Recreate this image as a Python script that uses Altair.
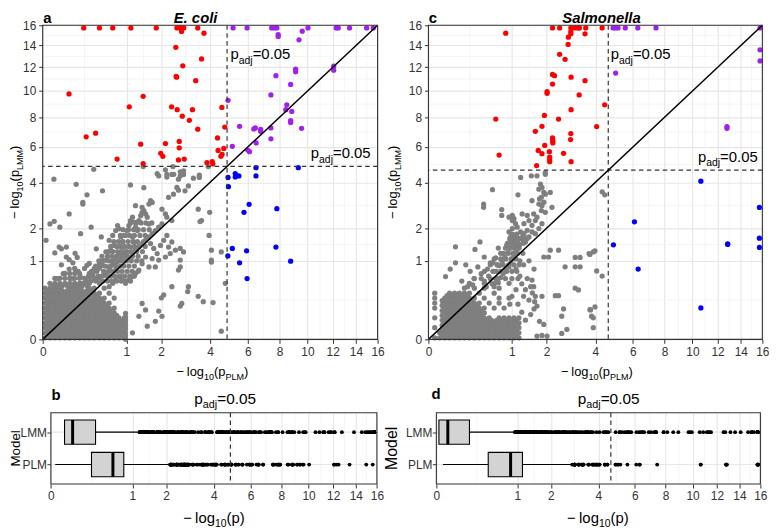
import altair as alt
import pandas as pd

FONT = "Liberation Sans"
MAJOR = [0, 1, 2, 4, 6, 8, 10, 12, 14, 16]
MINOR = [0.25, 1.457, 2.914, 4.949, 6.964, 8.972, 10.977, 12.981, 14.983]
GRID_MAJOR = "#E6E6E6"
GRID_MINOR = "#EEEEEE"

# ================= Panel a : E. coli  (x = -log10 p PLM, y = -log10 p LMM) =================
THR_A = 4.85
RED_A = [(0.24,15.73),(0.46,15.73),(0.70,15.73),(1.11,15.73),(1.84,15.73),(2.57,15.73),(2.70,15.73),(2.84,15.73),
         (2.75,15.37),(3.43,15.73),(3.71,15.2),(2.53,13.83),(3.60,12.75),(2.80,12.13),(2.54,11.21),(2.56,11.15),
         (3.34,10.85),(0.099,9.77),(1.44,9.58),(1.07,8.77),(2.37,8.77),(2.58,8.55),(3.20,8.55),(4.58,8.72),(2.78,8.08),
         (3.07,7.78),(4.73,7.31),(3.43,7.16),(0.27,6.65),(0.40,6.89),(4.36,6.58),(2.66,6.35),(1.37,6.18),(2.15,6.22),
         (2.66,5.95),(1.99,5.61),(2.06,5.43),(4.39,5.79),(4.68,5.91),(4.59,5.55),(4.53,5.43),(0.79,5.27),(2.63,5.22),
         (2.86,5.27),(1.44,5.01),(3.85,5.06),(4.10,5.12),(4.13,5.0)]
PURPLE_A = [(5.17,15.73),(5.96,15.73),(7.48,15.73),(7.65,15.73),(7.82,15.73),(10.04,15.73),(12.29,15.73),(12.46,15.73),
            (13.43,15.73),(14.97,15.73),(15.59,15.73),(7.91,15.07),(7.91,14.88),(9.61,15.4),(9.37,14.55),(12.08,12.1),
            (12.08,11.75),(9.13,11.84),(9.13,11.61),(7.76,11.27),(8.77,10.54),(7.43,9.69),(4.90,9.27),(8.50,8.92),
            (8.85,8.42),(8.43,8.55),(8.77,7.76),(8.77,7.62),(5.53,7.36),(9.56,7.22),(6.36,7.18),(6.45,7.25),(6.78,7.15),
            (6.78,7.0),(7.43,7.25),(6.50,6.26),(7.43,6.52),(5.13,6.04),(6.0,5.81),(6.1,5.71)]
BLUE_A = [(4.90,4.25),(5.29,4.46),(5.29,4.28),(5.49,4.33),(6.49,4.33),(6.49,4.78),(9.32,4.78),(4.92,3.78),(6.08,2.96),
          (5.78,2.62),(7.82,2.77),(5.13,1.34),(5.93,1.27),(7.76,1.38),(4.89,1.13),(5.53,0.95),(8.77,0.99),(5.96,0.60)]
GRAY_A_ROWS = [
    (0.0004, [0.0008,0.0075,0.021,0.042,0.070,0.104,0.146,0.194,0.25,0.31,0.38,0.46,0.54,0.63,0.73,0.83,0.95]),
    (0.007,  [0.0008,0.0075,0.021,0.042,0.070,0.104,0.146,0.194,0.25,0.31,0.38,0.46,0.54,0.63,0.73,0.83,0.95]),
    (0.022,  [0.0008,0.0075,0.021,0.042,0.070,0.104,0.146,0.194,0.25,0.31,0.38,0.46,0.54,0.63,0.73,0.83,0.95]),
    (0.044,  [0.0008,0.0075,0.021,0.042,0.070,0.104,0.146,0.194,0.25,0.31,0.38,0.46,0.54,0.63,0.73,0.83,0.95]),
    (0.075,  [0.0008,0.0075,0.021,0.042,0.070,0.104,0.146,0.194,0.25,0.31,0.38,0.46,0.54,0.63,0.73,0.83,0.95]),
    (0.113,  [0.0008,0.0075,0.021,0.042,0.070,0.104,0.146,0.194,0.25,0.31,0.38,0.46,0.54,0.63,0.73]),
    (0.159,  [0.0008,0.0075,0.021,0.042,0.070,0.104,0.146,0.194,0.25,0.31,0.38,0.46,0.54,0.63,0.73]),
    (0.214,  [0.0008,0.0075,0.021,0.042,0.070,0.104,0.146,0.194,0.25,0.31,0.38,0.46,0.54,0.63]),
    (0.276,  [0.0008,0.0075,0.021,0.042,0.070,0.104,0.146,0.194,0.25,0.31,0.38,0.46,0.54,0.73]),
    (0.346,  [0.0008,0.0075,0.021,0.042,0.070,0.104,0.146,0.194,0.25,0.31,0.38,0.46,0.63]),
    (0.424,  [0.0008,0.0075,0.021,0.042,0.104,0.146,0.194,0.31,0.38,0.54]),
    (0.51,   [0.0075,0.021,0.042,0.070,0.104,0.146,0.194,0.25,0.31,0.46]),
    (0.604,  [0.021,0.042,0.070,0.104,0.146,0.194,0.25,0.38,0.46]),
    (0.706,  [0.070,0.104,0.146,0.194,0.31,0.54]),
    (0.816,  [0.146,0.25,0.38,0.63]),
    (0.934,  [0.31,0.46,0.73]),
    # in-between rows of the solid block
    (0.0028, [0.0033,0.0137,0.031,0.055,0.087,0.125,0.17,0.222,0.281,0.347,0.42,0.5,0.587,0.681,0.782,0.89]),
    (0.0135, [0.0033,0.0137,0.031,0.055,0.087,0.125,0.17,0.222,0.281,0.347,0.42,0.5,0.587,0.681,0.782,0.89]),
    (0.032,  [0.0033,0.0137,0.031,0.055,0.087,0.125,0.17,0.222,0.281,0.347,0.42,0.5,0.587,0.681,0.782,0.89]),
    (0.0586, [0.0033,0.0137,0.031,0.055,0.087,0.125,0.17,0.222,0.281,0.347,0.42,0.5,0.587,0.681,0.782,0.89]),
    (0.093,  [0.0033,0.0137,0.031,0.055,0.087,0.125,0.17,0.222,0.281,0.347,0.42,0.5,0.587,0.681,0.782]),
    (0.135,  [0.0033,0.0137,0.031,0.055,0.087,0.125,0.17,0.222,0.281,0.347,0.42,0.5,0.587,0.681]),
    (0.186,  [0.0033,0.0137,0.031,0.055,0.087,0.125,0.17,0.222,0.281,0.347,0.42,0.5,0.587]),
    (0.244,  [0.0033,0.0137,0.031,0.055,0.087,0.125,0.17,0.222,0.281,0.347,0.42,0.5]),
    (0.31,   [0.0033,0.0137,0.031,0.055,0.087,0.125,0.17,0.222,0.281,0.347,0.42]),
    (0.384,  [0.0033,0.0137,0.031,0.055,0.087,0.125,0.17,0.222,0.281,0.347]),
    (0.466,  [0.0137,0.031,0.055,0.087,0.125,0.17,0.222,0.281]),
]
GRAY_A_MID = [
    (0.55, [0.27,0.33,0.40,0.52,0.60,0.68,0.78,0.88,1.0,1.1]),
    (0.65, [0.30,0.36,0.44,0.50,0.58,0.66,0.74,0.86,0.96,1.08,1.2]),
    (0.75, [0.34,0.42,0.53,0.62,0.70,0.80,0.90,1.02,1.14,1.3]),
    (0.87, [0.40,0.48,0.56,0.66,0.76,0.86,0.94,1.06,1.2]),
    (1.0,  [0.45,0.52,0.62,0.70,0.78,0.88,1.0,1.12,1.26,1.4]),
    (1.12, [0.50,0.60,0.68,0.78,0.90,1.02,1.15,1.3]),
    (1.25, [0.62,0.70,0.80,0.88,1.00,1.12,1.26,1.42]),
    (1.4,  [0.66,0.78,0.86,0.96,1.06,1.2,1.32,1.5]),
    (1.55, [0.72,0.82,0.92,1.04,1.16,1.28,1.45]),
    (1.75, [0.86,0.95,1.08,1.2,1.35,1.5]),
    (1.95, [0.92,1.05,1.18,1.3,1.45,1.62]),
    (2.2,  [1.1,1.25,1.38,1.52,1.7]),
]
GRAY_A_SCATTER = [(0.018,4.16),(0.16,3.90),(0.28,3.39),(0.51,3.58),(0.23,3.04),(0.23,2.97),(0.10,2.55),(0.0075,2.16),
    (0.019,2.26),(0.042,2.04),(0.0016,1.59),(0.205,1.81),(0.335,2.04),(0.039,1.38),(0.05,1.33),(0.08,1.38),(0.021,1.21),
    (0.10,1.03),(0.17,1.09),(0.28,0.89),(0.49,1.70),(0.41,1.33),(0.57,1.24),(1.10,3.87),(1.23,2.90),(1.41,2.83),
    (1.46,3.73),(1.66,3.12),(1.71,3.04),(1.61,2.97),(1.87,4.45),(1.92,4.33),(2.20,4.27),(2.38,4.41),(2.70,4.33),
    (2.63,4.16),(2.83,4.41),(3.24,4.21),(3.50,4.25),(2.57,3.74),(2.63,3.61),(2.89,3.58),(3.03,3.82),(2.26,3.27),
    (2.44,3.42),(2.03,2.75),(2.15,2.55),(2.20,2.42),(2.38,2.29),(3.45,2.75),(3.60,2.29),(3.98,2.62),(3.95,1.75),
    (4.06,1.29),(4.06,1.02),(4.06,0.97),(4.55,1.24),(4.76,0.51),(4.55,0.011),(3.45,0.30),(3.68,0.23),(4.14,0.22),
    (3.53,2.25),(2.70,0.18),(2.76,0.21),(3.03,0.45),(3.0,0.37),(2.63,0.78),(2.70,0.85),(2.38,0.45),(2.09,0.32),
    (2.01,0.28),(1.92,0.13),(2.03,0.086),(1.81,0.053),(1.41,0.21),(1.51,0.14),(1.32,0.086),(1.56,0.028),(1.15,0.007),
    (0.98,0.11),(0.98,0.08),(0.98,0.06),(0.98,0.04),(0.98,0.03),(0.98,0.017),(0.98,0.007),(0.98,0.002),(0.98,0.0),
    (0.372,4.69),(1.44,4.84),(2.15,4.66),(2.20,4.42),(2.42,4.84),(2.45,4.42),(2.70,4.55),(2.83,4.60),(3.91,4.84),
    (3.50,4.37),(0.03,0.6),(0.06,0.7),(0.1,0.8),(0.05,0.9),(0.13,0.95),(0.08,1.1),(0.15,1.2),(0.2,0.65),(0.18,0.75),
    (0.12,0.6)]
GRAY_A_DIAG = [(0.63,1.59),(0.70,1.75),(0.76,1.92),(0.80,2.10),(0.83,1.98),(0.87,1.70),(0.91,1.54),(0.95,1.38),
    (0.73,1.43),(0.66,1.29),(0.98,1.75),(1.02,1.92),(1.06,2.10),(1.10,2.29),(1.15,2.42),(1.19,2.23),(1.23,2.04),
    (1.28,1.92),(1.32,2.29),(1.37,2.48),(1.41,2.62),(1.46,2.69),(1.51,2.55),(1.56,2.42),(1.61,2.16),(1.15,1.70),
    (1.19,1.54),(1.10,1.38),(1.02,1.24),(0.95,1.15),(0.87,1.06),(0.80,0.98),(0.73,1.10),(0.70,0.93),(0.63,0.85),
    (0.57,1.02),(0.51,0.89),(0.46,0.82),(0.41,0.78),(0.36,0.71),(0.31,0.64),(0.27,0.57),(0.23,0.51),(0.83,1.19),
    (0.91,1.24),(0.98,1.02),(1.06,1.10),(1.15,1.19),(1.23,1.29),(1.32,1.38),(1.41,1.49),(1.51,1.59),(1.61,1.70),
    (1.71,1.81),(1.81,1.92),(1.92,2.04),(2.03,2.16),(1.66,1.49),(1.76,1.34),(1.87,1.19),(1.98,1.43),(2.09,1.59),
    (2.20,1.75),(2.26,1.38),(2.38,1.54),(1.81,0.85),(1.61,0.85),(1.41,0.93),(1.32,0.78),(1.23,0.71),(1.15,0.64),
    (1.06,0.57),(0.98,0.51),(0.91,0.57),(0.83,0.64),(0.76,0.57),(0.70,0.51),(0.63,0.45),(1.51,1.10),(1.71,1.06),
    (1.92,1.02),(2.15,1.10),(2.32,1.19),(2.51,1.29),(2.70,1.34),(2.83,1.24),(2.70,1.02),(0.76,0.78),(0.57,0.71),
    (0.46,0.64)]

# ================= Panel c : Salmonella =================
THR_C = 4.64
RED_C = [(0.857,15.2),(2.21,15.73),(2.47,15.73),(2.91,15.73),(3.09,15.73),(3.27,15.73),(3.55,15.73),(3.22,15.73),
         (4.33,15.73),(2.91,15.37),(2.91,15.14),(3.52,15.14),(2.81,14.81),(2.80,14.11),(2.47,13.18),(2.68,12.72),
         (2.21,11.38),(2.28,11.27),(2.21,10.57),(2.92,11.15),(3.52,10.85),(2.02,9.95),(2.02,9.82),(3.26,9.69),
         (2.92,8.55),(0.651,7.87),(1.93,8.13),(2.43,7.87),(1.85,7.36),(1.64,7.02),(2.91,6.87),(2.21,6.58),(2.22,6.37),
         (2.22,6.26),(2.21,6.47),(2.90,6.47),(1.94,6.10),(1.73,5.79),(1.85,5.59),(2.10,5.71),(2.62,5.61),(2.11,5.39),
         (2.11,5.24),(2.11,5.12),(0.717,5.51),(2.92,5.12),(1.68,4.90),(4.46,8.92),(4.06,7.34)]
PURPLE_C = [(4.89,15.73),(5.02,15.73),(5.16,15.73),(5.56,15.73),(6.29,15.73),(7.43,15.73),(15.78,15.73),(15.78,13.6),
            (15.78,12.57),(5.03,11.5),(12.79,7.34),(12.79,7.22)]
BLUE_C = [(10.65,4.06),(15.72,2.82),(6.09,2.24),(15.72,1.66),(15.72,1.37),(12.85,1.48),(12.85,1.46),(4.91,1.45),
          (6.31,0.80),(10.65,0.16)]
GRAY_C_ROWS = [
    (0.0004, [0.018,0.038,0.064,0.098,0.138,0.186,0.241,0.303,0.371,0.447,0.530,0.620,0.717,0.821,0.932,1.050,1.175]),
    (0.007,  [0.018,0.038,0.064,0.098,0.138,0.186,0.241,0.303,0.371,0.447,0.530,0.620,0.717,0.821,0.932,1.050,1.175]),
    (0.022,  [0.038,0.064,0.098,0.138,0.186,0.241,0.303,0.371,0.447,0.530,0.620,0.717,0.821,0.932,1.050,1.175]),
    (0.044,  [0.038,0.064,0.098,0.138,0.186,0.241,0.303,0.371,0.447,0.530,0.620,0.717,0.821,0.932,1.050,1.175]),
    (0.075,  [0.038,0.064,0.098,0.138,0.186,0.241,0.303,0.371,0.447,0.530,0.717,0.821,0.932,1.050,1.175]),
    (0.113,  [0.038,0.064,0.098,0.138,0.186,0.241,0.303,0.371,0.447]),
    (0.159,  [0.038,0.064,0.098,0.138,0.186,0.241,0.303,0.371,0.447,0.620,0.821]),
    (0.214,  [0.038,0.064,0.098,0.138,0.186,0.241,0.303,0.371,0.530,0.717]),
    (0.276,  [0.038,0.064,0.098,0.138,0.186,0.241,0.303,0.447,0.717,0.932]),
    (0.346,  [0.064,0.098,0.138,0.186,0.241,0.371,0.620]),
    (0.424,  [0.186,0.303,0.447,0.717]),
    (0.51,   [0.241,0.447,0.620,0.932]),
    # in-between rows of the solid block
    (0.0028, [0.027,0.05,0.080,0.117,0.161,0.2125,0.271,0.336,0.408,0.488,0.574,0.667,0.768,0.875,0.990,1.112]),
    (0.0135, [0.027,0.05,0.080,0.117,0.161,0.2125,0.271,0.336,0.408,0.488,0.574,0.667,0.768,0.875,0.990,1.112]),
    (0.032,  [0.027,0.05,0.080,0.117,0.161,0.2125,0.271,0.336,0.408,0.488,0.574,0.667,0.768,0.875,0.990,1.112]),
    (0.0586, [0.027,0.05,0.080,0.117,0.161,0.2125,0.271,0.336,0.408,0.488,0.574,0.667,0.768,0.875,0.990,1.112]),
    (0.093,  [0.027,0.05,0.080,0.117,0.161,0.2125,0.271,0.336,0.408]),
    (0.135,  [0.027,0.05,0.080,0.117,0.161,0.2125,0.271,0.336,0.408]),
    (0.186,  [0.027,0.05,0.080,0.117,0.161,0.2125,0.271,0.336]),
    (0.244,  [0.027,0.05,0.080,0.117,0.161,0.2125,0.271]),
    (0.31,   [0.05,0.080,0.117,0.161,0.2125]),
]
GRAY_C_MID = [
    (0.6,  [0.30,0.40,0.55,0.70,0.85,1.0,1.15]),
    (0.75, [0.45,0.60,0.75,0.88,1.0,1.12]),
    (0.9,  [0.55,0.68,0.80,0.92,1.05,1.18]),
    (1.05, [0.62,0.75,0.86,0.98,1.1]),
    (1.2,  [0.80,0.92,1.02,1.14,1.28]),
    (1.35, [0.85,0.96,1.06,1.18]),
    (1.5,  [0.90,1.05,1.16,1.30]),
    (1.65, [0.95,1.08,1.22,1.36]),
    (1.8,  [1.0,1.12,1.28]),
]
GRAY_C_LEFT = [(0.0057,0.0004),(0.0057,0.022),(0.0057,0.075),(0.0057,0.159),(0.0057,0.214),(0.0057,0.276),(0.0057,0.346)]
GRAY_C_SCATTER = [(0.589,3.63),(0.437,2.97),(0.437,2.83),(0.311,1.31),(0.381,1.54),(0.105,1.39),(0.105,0.95),
    (0.068,0.80),(0.042,0.64),(0.447,1.10),(0.771,2.73),(0.771,2.49),(1.01,2.49),(1.05,2.36),(1.15,3.39),(1.22,4.25),
    (1.52,4.34),(1.69,4.34),(1.96,4.42),(1.96,4.51),(1.80,3.91),(1.85,3.74),(1.75,3.66),(1.91,3.50),(1.96,3.42),
    (1.83,3.27),(1.77,3.20),(1.91,3.05),(1.75,2.97),(1.85,2.90),(1.83,2.69),(1.96,2.62),(1.54,3.12),(1.59,2.55),
    (1.69,2.42),(2.13,3.50),(2.19,2.83),(1.26,2.55),(1.40,2.49),(1.45,2.29),(1.31,2.17),(1.54,2.11),(1.64,2.29),
    (1.75,1.99),(1.85,2.17),(0.932,2.42),(1.01,2.29),(1.09,2.17),(1.13,2.04),(1.01,1.99),(0.932,1.87),(0.97,1.70),
    (1.05,1.76),(1.13,1.65),(1.01,1.54),(1.09,1.44),(0.932,1.39),(1.22,1.87),(1.31,1.81),(1.40,1.93),(1.26,1.65),
    (1.35,1.54),(1.45,1.70),(1.54,1.87),(1.64,1.81)]
GRAY_C_DIAG = [(0.62,0.45),(0.70,0.52),(0.75,0.62),(0.80,0.70),(0.86,0.78),(0.93,0.85),(0.97,0.95),(1.01,1.05),
    (1.05,1.15),(1.10,1.25),(1.15,1.35),(1.20,1.45),(1.30,1.55),(1.40,1.65),(0.66,0.75),(0.72,0.88),(0.78,0.98),
    (0.84,1.10),(0.90,1.22),(0.95,1.35),(1.00,1.48),(1.05,1.60),(1.12,1.70),(0.60,0.95),(0.65,1.08),(0.75,1.20),
    (0.88,1.45),(0.98,1.62),(1.02,1.78),(0.70,1.35),(0.20,0.90),(0.25,0.75),(0.30,0.60),(0.35,0.85),(0.40,0.70),
    (0.45,0.55),(0.50,0.80),(0.52,0.65),(0.55,0.95),(0.58,0.50),(0.48,0.45),(0.28,0.48),(0.16,0.55),(0.22,0.45),
    (0.60,0.75),(0.65,0.60),(0.68,0.90),(1.10,0.80),(1.20,0.65),(1.25,0.50),(1.35,0.40),(1.30,0.30),(1.15,0.20),
    (1.40,0.60),(1.50,0.45),(1.45,0.25),(1.25,0.12),(1.35,0.06),(1.50,0.10),(1.60,0.15),(1.55,0.35),(1.20,1.00),
    (1.30,0.90),(1.45,1.00),(1.60,0.80),(1.00,0.30),(0.95,0.20),(1.10,0.40)]
GRAY_C_RIGHT = [(1.54,0.57),(1.59,0.45),(1.64,0.30),(1.62,0.23),(1.69,0.18),(1.85,0.30),(1.77,0.053),(1.91,0.036),
    (1.69,0.0018),(1.85,0.0025),(2.02,0.0018),(2.07,1.10),(1.91,1.10),(2.13,1.29),(2.43,1.29),(2.68,0.854),
    (3.09,1.09),(3.30,1.09),(3.09,0.854),(3.30,0.854),(3.09,0.424),(3.23,0.397),(2.31,0.31),(2.43,0.31),(2.62,0.15),
    (2.55,0.087),(2.75,0.016),(2.55,0.0057),(3.74,0.143),(3.82,0.087),(3.70,1.19),(3.90,1.24),(3.74,1.17),(3.98,1.27),
    (4.06,0.76),(4.33,0.65),(3.77,0.14),(3.98,0.17),(3.90,0.075),(3.90,0.022),(4.33,3.53),(4.46,3.39)]

# ================= Box plot summaries (panels b and d) =================
BOX_MODELS = ["LMM", "PLM"]
BOX_POS = [2, 1]
BOX_B = {"lo": [0.028, 0.0028], "q1": [0.028, 0.248], "med": [0.071, 0.579], "q3": [0.30, 0.80], "hi": [1.18, 2.10]}
BOX_D = {"lo": [0.001, 0.0067], "q1": [0.001, 0.41], "med": [0.02, 0.84], "q3": [0.167, 1.13], "hi": [0.92, 2.80]}

# ---------------------------------------------------------------------------
ONE = pd.DataFrame({"k": [0]})
WID = {"\u2212": 584, "l": 222, "o": 556, "g": 556, "1": 556, "0": 556, "(": 333, ")": 333, "p": 556, "P": 667,
       "L": 556, "M": 833, "a": 556, "d": 556, "j": 222, "=": 584, ".": 278, "5": 556}


def tw(s, size):
    return sum(WID[c] for c in s) / 1000.0 * size


def txt(t, x, y, size, angle=0, weight="normal", style="normal", align="left", color="black"):
    return alt.Chart(ONE).mark_text(text=t, fontSize=size, angle=angle, fontWeight=weight, fontStyle=style,
                                    align=align, baseline="alphabetic", color=color, font=FONT
                                    ).encode(x=alt.value(x), y=alt.value(y))


def rich(parts, x0, y0, size, angle=0, center=False):
    """parts: (text, kind) kind 0 normal, 1 subscript, 2 gap (em)"""
    sub = 0.7 * size

    def w(p):
        t, k = p
        if k == 2:
            return t * size
        return tw(t, sub if k == 1 else size)

    total = sum(w(p) for p in parts)
    pos = -total / 2.0 if center else 0.0
    out = []
    for p in parts:
        t, k = p
        if k != 2:
            fs = sub if k == 1 else size
            drop = 0.3 * size if k == 1 else 0.0
            if angle == 0:
                out.append(txt(t, x0 + pos, y0 + drop, fs))
            else:
                out.append(txt(t, x0 + drop, y0 - pos, fs, angle=270))
        pos += w(p)
    return out


PADJ = [("p", 0), ("adj", 1), ("=0.05", 0)]
XT = [("\u2212", 0), (0.22, 2), ("log", 0), ("10", 1), ("(p", 0), ("PLM", 1), (")", 0)]
YT = [("\u2212", 0), (0.22, 2), ("log", 0), ("10", 1), ("(p", 0), ("LMM", 1), (")", 0)]
BT = [("\u2212", 0), (0.22, 2), ("log", 0), ("10", 1), ("(p)", 0)]


def pts(pairs):
    return pd.DataFrame(pairs, columns=["x", "y"])


def rows(rs):
    return [(x, y) for y, xs in rs for x in xs]


def scatter(gray, red, purple, blue, thr, width, texts):
    xs = alt.Scale(type="sqrt", domain=[0, 16], nice=False)
    ys = alt.Scale(type="sqrt", domain=[0, 16], nice=False)
    ax = alt.Axis(values=MAJOR, title=None, grid=True, format="d")
    ay = alt.Axis(values=MAJOR, title=None, grid=True, format="d")

    def X(f):
        return alt.X(f, type="quantitative", scale=xs, axis=ax)

    def Y(f):
        return alt.Y(f, type="quantitative", scale=ys, axis=ay)

    minor = pd.DataFrame({"v": MINOR})
    layers = [
        alt.Chart(minor).mark_rule(color=GRID_MINOR, strokeWidth=0.6).encode(x=X("v")),
        alt.Chart(minor).mark_rule(color=GRID_MINOR, strokeWidth=0.6).encode(y=Y("v")),
    ]
    for data, col in [(gray, "#7F7F7F"), (red, "#FF0000"), (purple, "#A020F0"), (blue, "#0000FF")]:
        layers.append(alt.Chart(pts(data)).mark_circle(size=28, opacity=1, color=col).encode(x=X("x"), y=Y("y")))
    tdf = pd.DataFrame({"v": [thr]})
    layers.append(alt.Chart(tdf).mark_rule(color="#333333", strokeWidth=1.2, strokeDash=[4.5, 3.5]).encode(x=X("v")))
    layers.append(alt.Chart(tdf).mark_rule(color="#333333", strokeWidth=1.2, strokeDash=[4.5, 3.5]).encode(y=Y("v")))
    diag = pd.DataFrame({"x": [0, 16], "y": [0, 16]})
    layers.append(alt.Chart(diag).mark_line(color="black", strokeWidth=1.5).encode(x=X("x"), y=Y("y")))
    border = pd.DataFrame({"x": [0], "x2": [16], "y": [0], "y2": [16]})
    layers.append(alt.Chart(border).mark_rect(fillOpacity=0, stroke="#333333", strokeWidth=1.1)
                  .encode(x=X("x"), x2=alt.X2("x2"), y=Y("y"), y2=alt.Y2("y2")))
    layers += texts
    return alt.layer(*layers).properties(width=width, height=317)


def boxpanel(stats, out_lmm, out_plm, thr, width, rng, texts):
    xs = alt.Scale(type="sqrt", domain=[0, 16], nice=False, range=rng)
    ys = alt.Scale(domain=[0.4, 2.6], nice=False, zero=False)
    ax = alt.Axis(values=MAJOR, title=None, grid=True, format="d")
    ay = alt.Axis(values=[1, 2], title=None, grid=False, labelExpr="datum.value == 2 ? 'LMM' : 'PLM'",
                  offset=-rng[0], labelPadding=0.5, labelFontSize=12)

    def X(f):
        return alt.X(f, type="quantitative", scale=xs, axis=ax)

    def Y(f):
        return alt.Y(f, type="quantitative", scale=ys, axis=ay)

    st = pd.DataFrame(dict(model=BOX_MODELS, pos=BOX_POS, **stats))
    st["ylo"] = st["pos"] - 0.375
    st["yhi"] = st["pos"] + 0.375
    minor = pd.DataFrame({"v": MINOR})
    hgrid = pd.DataFrame({"y": [1, 2], "x0": [0, 0], "x1": [16, 16]})
    outl = pd.DataFrame({"x": out_lmm + out_plm, "y": [2] * len(out_lmm) + [1] * len(out_plm)})
    tdf = pd.DataFrame({"v": [thr]})
    border = pd.DataFrame({"x": [0], "x2": [16], "y": [0.4], "y2": [2.6]})
    layers = [
        alt.Chart(minor).mark_rule(color=GRID_MINOR, strokeWidth=0.6).encode(x=X("v")),
        alt.Chart(hgrid).mark_rule(color=GRID_MAJOR, strokeWidth=1.1).encode(x=X("x0"), x2=alt.X2("x1"), y=Y("y")),
        alt.Chart(st).mark_rule(color="black", strokeWidth=1.1).encode(x=X("lo"), x2=alt.X2("hi"), y=Y("pos")),
        alt.Chart(st).mark_rect(color="#D3D3D3", stroke="black", strokeWidth=1.1)
        .encode(x=X("q1"), x2=alt.X2("q3"), y=Y("ylo"), y2=alt.Y2("yhi")),
        alt.Chart(st).mark_rule(color="black", strokeWidth=3).encode(x=X("med"), y=Y("ylo"), y2=alt.Y2("yhi")),
        alt.Chart(outl).mark_circle(size=15, opacity=1, color="black").encode(x=X("x"), y=Y("y")),
        alt.Chart(tdf).mark_rule(color="#333333", strokeWidth=1.2, strokeDash=[4.5, 3.5]).encode(x=X("v")),
        alt.Chart(border).mark_rect(fillOpacity=0, stroke="#333333", strokeWidth=1.1)
        .encode(x=X("x"), x2=alt.X2("x2"), y=Y("y"), y2=alt.Y2("y2")),
    ]
    layers += texts
    return alt.layer(*layers).properties(width=width, height=72)


# ---- assemble panel data ----
gray_a = rows(GRAY_A_ROWS) + rows(GRAY_A_MID) + GRAY_A_SCATTER + GRAY_A_DIAG
gray_c = rows(GRAY_C_ROWS) + rows(GRAY_C_MID) + GRAY_C_LEFT + GRAY_C_SCATTER + GRAY_C_DIAG + GRAY_C_RIGHT
all_a = gray_a + RED_A + PURPLE_A + BLUE_A
all_c = gray_c + RED_C + PURPLE_C + BLUE_C

out_b_lmm = [p[1] for p in all_a if p[1] > BOX_B["hi"][0]]
out_b_plm = [p[0] for p in all_a if p[0] > BOX_B["hi"][1]]
out_d_lmm = [p[1] for p in all_c if p[1] > BOX_D["hi"][0]]
out_d_plm = [p[0] for p in all_c if p[0] > BOX_D["hi"][1]]

# ---- texts ----
anchor = alt.Chart(ONE).mark_rule(color="white", strokeWidth=1).encode(
    x=alt.value(-34.2), x2=alt.value(-33.2), y=alt.value(-14.5), y2=alt.value(-14.5))

texts_a = [anchor,
           txt("a", 0.6, -2, 15, weight="bold"),
           txt("E. coli", 154.3, -2, 15, weight="bold", style="italic", align="center")]
texts_a += rich(PADJ, 189.6, 34.3, 15)
texts_a += rich(PADJ, 270.6, 134.3, 15)
texts_a += rich(XT, 171.3, 354.3, 13, center=True)
texts_a += rich(YT, -23.4, 158.5, 13, angle=270, center=True)

texts_c = [txt("c", 0.3, -2, 15, weight="bold"),
           txt("Salmonella", 174.7, -2, 15, weight="bold", style="italic", align="center")]
texts_c += rich(PADJ, 184, 34.3, 15)
texts_c += rich(PADJ, 272, 138, 15)
texts_c += rich(XT, 170, 354.3, 13, center=True)
texts_c += rich(YT, -31.5, 158.5, 13, angle=270, center=True)

texts_b = [txt("b", 9, -12.3, 15, weight="bold"),
           txt("Model", -23.2, 36, 13.5, angle=270, align="center")]
texts_b += rich(PADJ, 153, -9, 15.5)
texts_b += rich(BT, 172.8, 111, 15, center=True)

texts_d = [txt("d", 3, -14, 15, weight="bold"),
           txt("Model", -32, 36, 16, angle=270, align="center")]
texts_d += rich(PADJ, 150.7, -9, 15.5)
texts_d += rich(BT, 171, 111, 15, center=True)

pa = scatter(gray_a, RED_A, PURPLE_A, BLUE_A, THR_A, 338, texts_a)
pc = scatter(gray_c, RED_C, PURPLE_C, BLUE_C, THR_C, 337, texts_c)
pb = boxpanel(BOX_B, out_b_lmm, out_b_plm, THR_A, 338, [8.3, 337.3], texts_b)
pdd = boxpanel(BOX_D, out_d_lmm, out_d_plm, THR_C, 337, [8, 335], texts_d)

chart = alt.concat(pa, pc, pb, pdd, columns=2, spacing={"row": 74, "column": 51.3},
                   bounds="flush", align="each").properties(padding=0)
chart = chart.configure_view(strokeWidth=0, strokeOpacity=0).configure_axis(
    labelFont=FONT, labelFontSize=12, labelColor="#333333", tickColor="#333333", tickSize=4, tickWidth=1,
    domain=False, gridColor=GRID_MAJOR, gridWidth=1.1, labelPadding=3, labelFlush=False, labelOverlap=False)

chart.save("out.html", embed_options={"renderer": "svg", "actions": False})
